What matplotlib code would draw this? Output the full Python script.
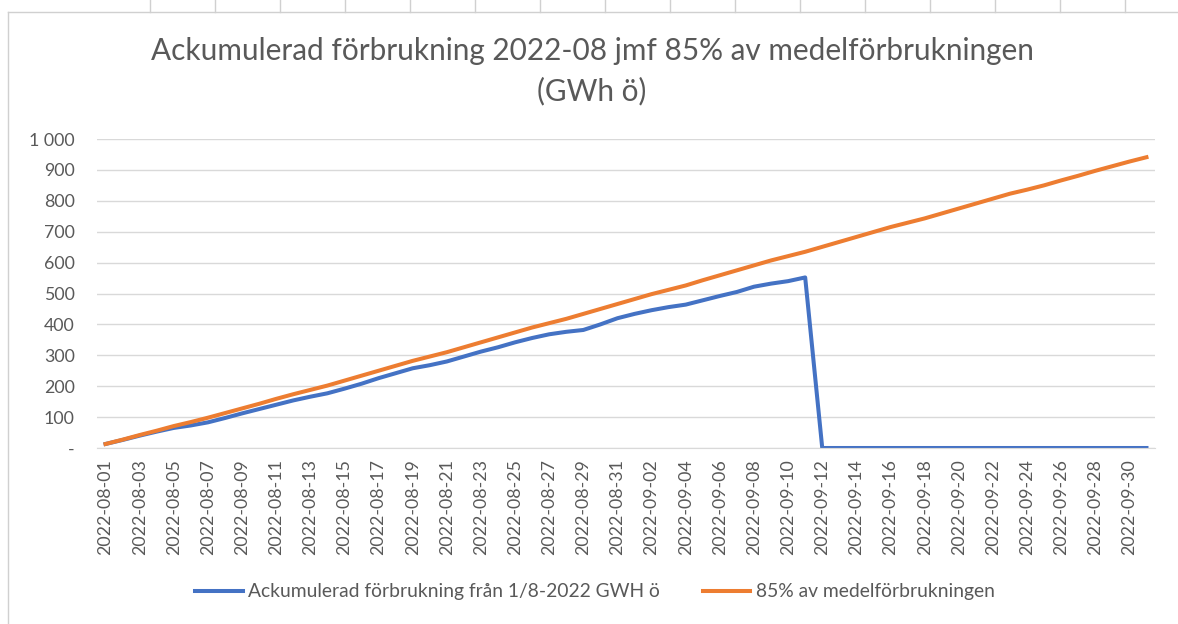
import numpy as np
import pandas as pd
import matplotlib
matplotlib.use("Agg")
import matplotlib.pyplot as plt
from matplotlib.lines import Line2D
from matplotlib.ticker import FuncFormatter

# dates 2022-08-01 .. 2022-10-01 (one category per day)
dates = pd.date_range("2022-08-01", "2022-10-01", freq="D").strftime("%Y-%m-%d").tolist()

# Ackumulerad förbrukning från 1/8-2022 GWH ö (zero after 2022-09-11)
ackumulerad = [13, 26, 40, 53, 65, 73, 83, 97, 112, 126, 140, 154, 166, 177,
               192, 208, 226, 242, 258, 268, 280, 296, 312, 326, 342, 356, 368,
               376, 382, 400, 420, 434, 446, 456, 464, 478, 492, 505, 522, 532,
               540, 552,
               0, 0, 0, 0, 0, 0, 0, 0, 0, 0, 0, 0, 0, 0, 0, 0, 0, 0, 0, 0]

# 85% av medelförbrukningen
medel85 = [13, 27, 42, 56, 71, 84, 98, 113, 128, 143, 159, 174, 188, 202,
           218, 234, 250, 266, 282, 296, 310, 326, 342, 358, 374, 390, 404,
           418, 434, 450, 466, 482, 498, 512, 526, 543, 559, 575, 591, 607,
           621, 635, 651, 667, 683, 699, 715, 729, 743, 759, 775, 791, 807,
           823, 836, 850, 866, 881, 897, 912, 927, 941]

title = "Ackumulerad förbrukning 2022-08 jmf 85% av medelförbrukningen\n(GWh ö)"
label_blue = "Ackumulerad förbrukning från 1/8-2022 GWH ö"
label_orange = "85% av medelförbrukningen"

blue = "#4472C4"
orange = "#ED7D31"
textcol = "#595959"
gridcol = "#D9D9D9"

plt.rcParams["font.family"] = ["Lato", "DejaVu Sans"]

W, H = 1178, 624
fig = plt.figure(figsize=(W / 100, H / 100), dpi=100)

# spreadsheet cell lines behind the chart
fig.add_artist(Line2D([8 / W, 1], [1 - 12 / H, 1 - 12 / H], color="#D0D0D0", lw=1))
fig.add_artist(Line2D([8 / W, 8 / W], [0, 1 - 12 / H], color="#D0D0D0", lw=1))
for xp in np.arange(150, W, 65):
    fig.add_artist(Line2D([xp / W, xp / W], [1 - 12 / H, 1], color="#D0D0D0", lw=1))

ax = fig.add_axes([97 / W, 1 - 448 / H, (1155 - 97) / W, (448 - 139) / H])

x = np.arange(len(dates))
ax.plot(x, ackumulerad, color=blue, lw=2.9, solid_joinstyle="round", label=label_blue)
ax.plot(x, medel85, color=orange, lw=2.9, solid_joinstyle="round", label=label_orange)

ax.set_xlim(-0.5, len(dates) - 0.5)
ax.set_ylim(0, 1000)
ax.set_yticks(np.arange(0, 1001, 100))
ax.yaxis.set_major_formatter(FuncFormatter(
    lambda v, p: "-" if v == 0 else f"{int(v):,}".replace(",", " ")))
ax.set_xticks(x[::2])
ax.set_xticklabels(dates[::2], rotation=90)

ax.grid(axis="y", color=gridcol, lw=1)
ax.set_axisbelow(True)
for s in ["top", "right", "left"]:
    ax.spines[s].set_visible(False)
ax.spines["bottom"].set_color(gridcol)
ax.tick_params(axis="both", length=0, labelsize=12.8, colors=textcol)
ax.tick_params(axis="x", pad=8)
ax.tick_params(axis="y", pad=16)

fig.text(592 / W, 1 - 71 / H, title, ha="center", va="center",
         fontsize=21.4, color=textcol, linespacing=1.5)

fig.legend(loc="center", bbox_to_anchor=(595 / W, 1 - 592 / H), ncol=2,
           frameon=False, fontsize=13.9, labelcolor=textcol,
           handlelength=2.45, columnspacing=2.2, handletextpad=0.3)

fig.savefig("out.png", dpi=100)
